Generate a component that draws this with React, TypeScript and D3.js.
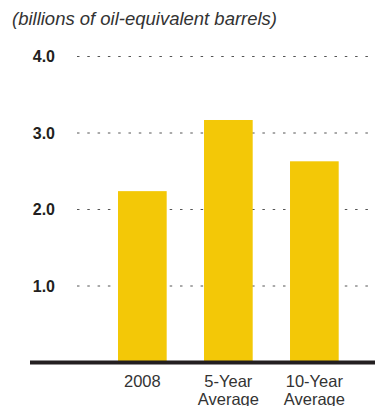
import React from "react";
import * as d3 from "d3";

const categories: string[][] = [["2008"], ["5-Year", "Average"], ["10-Year", "Average"]];
const values: number[] = [2.24, 3.17, 2.63];
const ticks: number[] = [1, 2, 3, 4];
const title = "(billions of oil-equivalent barrels)";

export default function App() {
  const W = 375, H = 406;
  const y = d3.scaleLinear().domain([0, 4]).range([362.5, 56.5]);
  const keys = categories.map((c) => c.join(" "));
  const x = d3.scaleBand<string>().domain(keys).range([75, 381.7]).paddingInner(0.434).paddingOuter(0.5);
  const font = "'Liberation Sans', Arial, Helvetica, sans-serif";
  return (
    <svg width={W} height={H} style={{ position: "absolute", left: 0, top: 0 }}>
      <text x={12} y={25} fontFamily={font} fontSize={18.3} fontStyle="italic" fill="#333" textLength={265} lengthAdjust="spacingAndGlyphs">{title}</text>
      {ticks.map((t) => (
        <g key={t}>
          <line x1={77} x2={370} y1={y(t)} y2={y(t)} stroke="#555" strokeWidth={1} strokeDasharray="2.5 7.8" />
          <text x={55} y={y(t) + 5.8} textAnchor="end" fontFamily={font} fontSize={16} fontWeight="bold" fill="#231f20">{t.toFixed(1)}</text>
        </g>
      ))}
      {values.map((v, i) => (
        <rect key={i} x={x(keys[i])} y={y(v)} width={x.bandwidth()} height={y(0) - y(v)} fill="#F3C807" />
      ))}
      <line x1={30} x2={375} y1={y(0)} y2={y(0)} stroke="#231f20" strokeWidth={4} />
      {categories.map((c, i) => (
        <text key={i} textAnchor="middle" fontFamily={font} fontSize={16.5} fill="#333">
          {c.map((l, j) => (
            <tspan key={j} x={(x(keys[i]) as number) + x.bandwidth() / 2} y={387 + j * 18}>{l}</tspan>
          ))}
        </text>
      ))}
    </svg>
  );
}
